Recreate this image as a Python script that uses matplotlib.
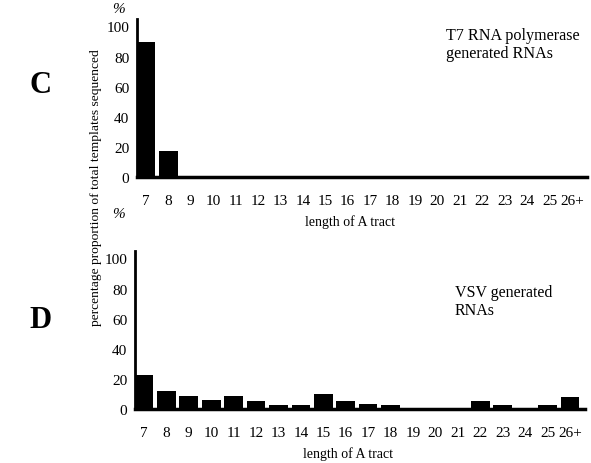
import numpy as np
import matplotlib
matplotlib.use("Agg")
import matplotlib.pyplot as plt

plt.rcParams['font.family'] = ['Liberation Serif', 'DejaVu Serif']

lengths = ['7', '8', '9', '10', '11', '12', '13', '14', '15', '16', '17',
           '18', '19', '20', '21', '22', '23', '24', '25', '26+']
t7_pct = [90, 17.3, 0, 0, 0, 0, 0, 0, 0, 0, 0, 0, 0, 0, 0, 0, 0, 0, 0, 0]
vsv_pct = [22.7, 12.2, 8.9, 5.8, 8.7, 5.6, 2.9, 2.9, 10.2, 5.5,
           3.2, 3.0, 0, 0, 0, 5.7, 2.8, 0, 2.8, 8.2]

fig = plt.figure(figsize=(5.91, 4.64), dpi=100)
ax1 = fig.add_axes([0.2318, 0.616, 0.7614, 0.341])
ax2 = fig.add_axes([0.2284, 0.116, 0.7614, 0.341])

x = np.arange(len(lengths))
for ax, vals in [(ax1, t7_pct), (ax2, vsv_pct)]:
    ax.bar(x, vals, width=0.83, color='black')
    ax.set_xlim(-0.4, 19.67)
    ax.set_ylim(0, 105)
    ax.set_yticks([0, 20, 40, 60, 80, 100])
    ax.set_xticks(x)
    ax.set_xticklabels(lengths)
    ax.tick_params(length=0, labelsize=11)
    ax.tick_params(axis='y', pad=5.5)
    ax.tick_params(axis='x', pad=12)
    ax.spines['top'].set_visible(False)
    ax.spines['right'].set_visible(False)
    ax.spines['left'].set_linewidth(2)
    ax.spines['bottom'].set_linewidth(2.5)
    ax.set_xlabel('length of A tract', fontsize=10)
    ax.xaxis.set_label_coords(0.473, -0.235)

ax1.text(0.687, 0.95, 'T7 RNA polymerase\ngenerated RNAs', transform=ax1.transAxes,
         fontsize=11.6, va='top', linespacing=1.15)
ax2.text(0.711, 0.79, 'VSV generated\nRNAs', transform=ax2.transAxes,
         fontsize=11.5, va='top', linespacing=1.15)

fig.text(0.2, 0.98, '%', fontsize=11, ha='center', va='center', style='italic')
fig.text(0.2, 0.538, '%', fontsize=11, ha='center', va='center', style='italic')

fig.text(0.068, 0.815, 'C', fontsize=22, fontweight='bold', ha='center', va='center')
fig.text(0.068, 0.31, 'D', fontsize=22, fontweight='bold', ha='center', va='center')

fig.text(0.162, 0.595, 'percentage proportion of total templates sequenced', rotation=90,
         fontsize=9.7, ha='center', va='center')

fig.savefig('out.png', dpi=100)
